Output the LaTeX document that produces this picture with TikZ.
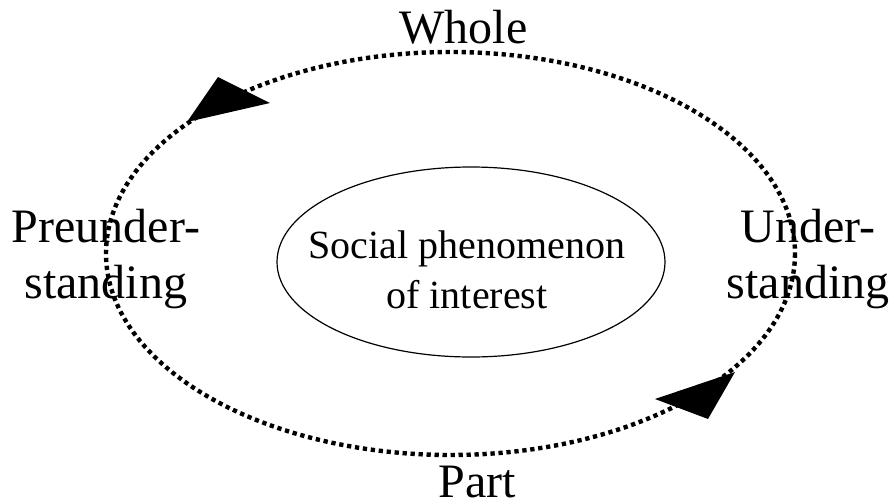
\documentclass[tikz,border=0pt]{standalone}
\usepackage{fontspec}
\setmainfont{Liberation Serif}
\begin{document}
\begin{tikzpicture}[x=0.75pt,y=-0.75pt,
  cyclepath/.style={line width=3.3pt, dash pattern=on 3.2pt off 2.8pt},
  headfill/.style={fill=black},
  biglabel/.style={font=\fontsize{36}{42}\selectfont, inner sep=0pt, align=center},
  corelabel/.style={font=\fontsize{30}{37.5}\selectfont, inner sep=0pt, align=center},
  coreline/.style={line width=0.9pt}
]
\useasboundingbox (0,0) rectangle (894,504);

% hermeneutic circle
\draw[cyclepath] (450.5,253.5) ellipse [x radius=344.5, y radius=201.5];

% arrowheads along the circle
\coordinate (tipA) at (187,122);
\coordinate (tipB) at (735,372);
\fill[headfill] (tipA) -- (218,77) -- (270,103) -- cycle;
\fill[headfill] (tipB) -- (708,419) -- (655,399) -- cycle;

% central topic (base anchor sits on the last line)
\node[corelabel, anchor=base] (topic) at (467,308) {Social phenomenon\\of interest};
\draw[coreline] (471,262) ellipse [x radius=194, y radius=95];

% labels round the circle
\node[biglabel, anchor=base] (whole) at (463.5,43) {Whole};
\node[biglabel, anchor=base, text depth=0pt] (part) at (477,497) {Part};
\node[biglabel, anchor=base] (pre) at (106,298) {Preunder-\\standing};
\node[biglabel, anchor=base] (post) at (808,298) {Under-\\standing};
\end{tikzpicture}
\end{document}
